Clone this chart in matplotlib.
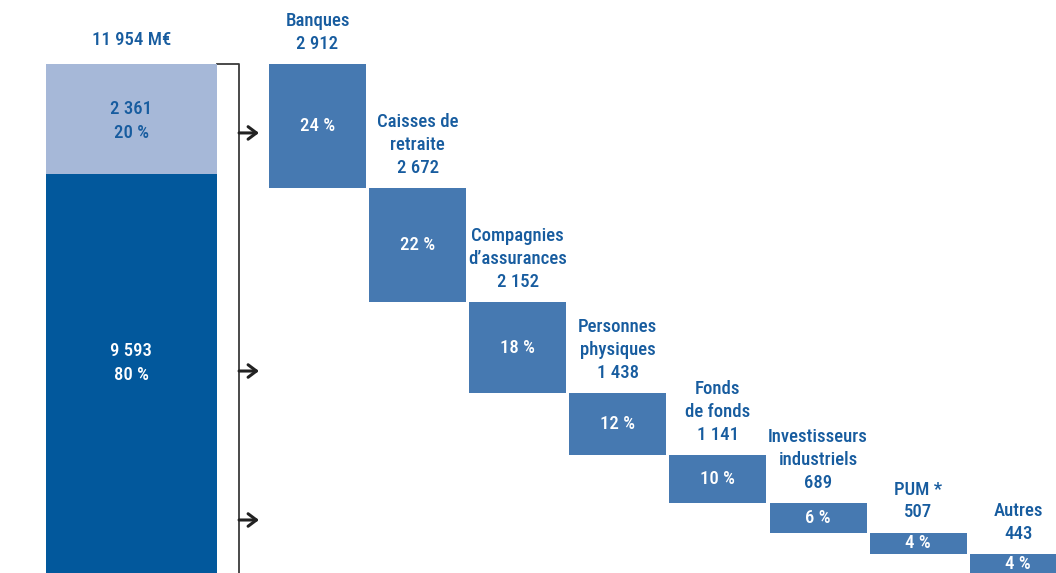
import matplotlib.pyplot as plt

plt.rcParams['font.family'] = ['Roboto Condensed', 'DejaVu Sans']

total = 11954
split_values = [2361, 9593]
split_pct = ['20 %', '80 %']
investors = ['Banques', 'Caisses de\nretraite', 'Compagnies\nd\u2019assurances',
             'Personnes\nphysiques', 'Fonds\nde fonds', 'Investisseurs\nindustriels',
             'PUM *', 'Autres']
amounts = [2912, 2672, 2152, 1438, 1141, 689, 507, 443]
shares = [24, 22, 18, 12, 10, 6, 4, 4]


def fmt(v):
    return f'{v:,}'.replace(',', ' ')


text_blue = '#175c9f'
box_blue = '#4679b1'
dark_blue = '#02589c'
light_blue = '#a6b8d8'
fs = 13.5
fw = 'medium'

fig = plt.figure(figsize=(10.56, 5.73), dpi=100)
ax = fig.add_axes([0, 0, 1, 1])
k = 509 / total  # px per M€
ax.set_xlim(-3.172, 7.377)
ax.set_ylim(total, -64 / k)
ax.axis('off')

# left stacked bar (own scale, runs past the bottom edge)
axl = fig.add_axes([0, 0, 1, 1], sharex=ax)
kl = 110 / split_values[0]
axl.set_ylim(509 / kl, -64 / kl)
axl.axis('off')
xl = -1.859
axl.bar(xl, split_values[0], bottom=0, width=1.708, color=light_blue)
axl.bar(xl, split_values[1], bottom=split_values[0], width=1.708, color=dark_blue)
axl.text(xl, split_values[0] / 2 + 40, fmt(split_values[0]) + '\n' + split_pct[0],
         ha='center', va='center', fontsize=fs, fontweight=fw, color=text_blue, linespacing=1.4)
axl.text(xl, 6420, fmt(split_values[1]) + '\n' + split_pct[1],
         ha='center', va='center', fontsize=fs, fontweight=fw, color='white', linespacing=1.4)
axl.annotate(fmt(total) + ' M\u20ac', xy=(xl, 0), xytext=(0, 17), textcoords='offset points',
             ha='center', va='center', fontsize=fs, fontweight=fw, color=text_blue)

# bracket + arrows
ax.plot([-1.005, -0.784, -0.784], [0, 0, total], color='#3a3a3a', lw=1.3, clip_on=False)
for ya in [0.768, 0.3525, 0.0925]:
    ax.annotate('', xy=(-0.585, ya), xytext=(-0.784, ya),
                xycoords=('data', 'axes fraction'), textcoords=('data', 'axes fraction'),
                arrowprops=dict(arrowstyle='->,head_length=0.6,head_width=0.45',
                                color='#222222', lw=2.2, shrinkA=0, shrinkB=0))

# waterfall boxes
bottoms = []
acc = 0
for a in amounts:
    bottoms.append(acc)
    acc += a
xs = list(range(len(amounts)))
ax.bar(xs, amounts, bottom=bottoms, width=0.97, color=box_blue)
for x, b, a, s, name in zip(xs, bottoms, amounts, shares, investors):
    yc = b + a / 2
    ax.text(x, yc, f'{s} %', ha='center', va='center', fontsize=fs, fontweight=fw, color='white')
    ax.annotate(name + '\n' + fmt(a), xy=(x, b), xytext=(0, 8), textcoords='offset points',
                ha='center', va='bottom', fontsize=fs, fontweight=fw, color=text_blue,
                linespacing=1.35)

fig.savefig('out.png', dpi=100)
